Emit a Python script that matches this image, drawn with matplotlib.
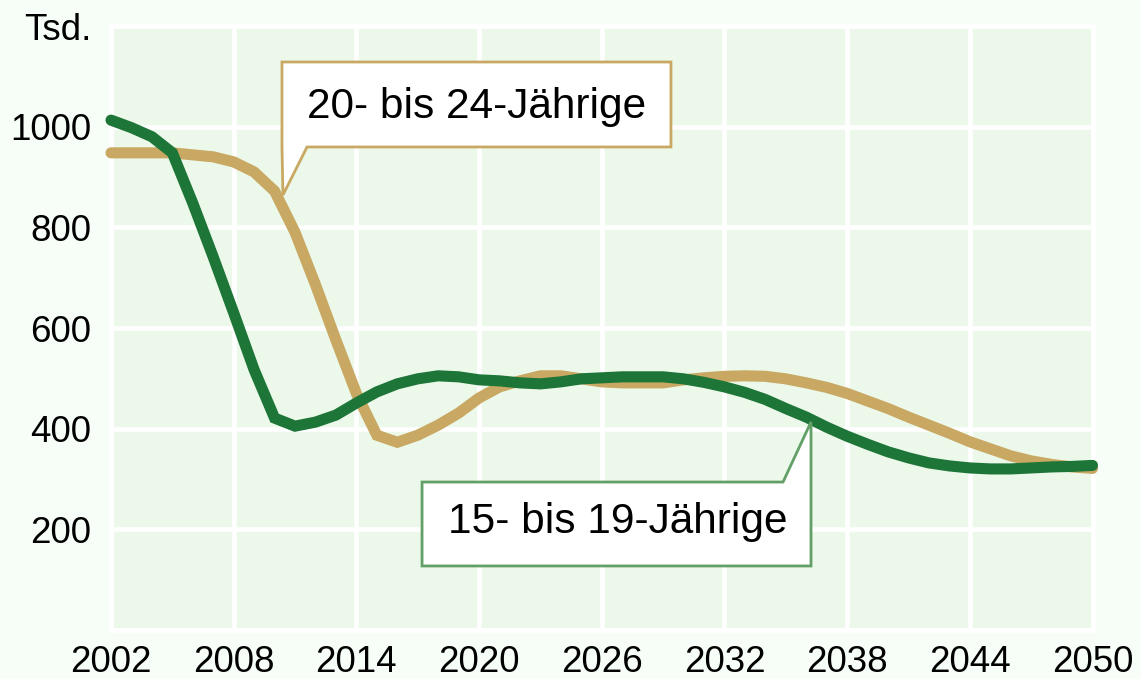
import matplotlib
matplotlib.use("Agg")
import matplotlib.pyplot as plt
from matplotlib.patches import Polygon

plt.rcParams['font.family'] = ['Liberation Sans', 'DejaVu Sans']

years = list(range(2002, 2051))
age_20_24 = [948, 948, 948, 948, 944, 940, 930, 910, 872, 790, 686, 576, 470, 387,
             373, 387, 407, 431, 461, 483, 495, 505, 505, 499, 493, 491, 491, 491,
             497, 501, 504, 505, 504, 499, 491, 482, 470, 455, 440, 423, 407, 391,
             374, 360, 346, 336, 329, 324, 321]
age_15_19 = [1013, 998, 980, 948, 848, 741, 630, 517, 421, 405, 413, 427, 451, 473,
             489, 499, 505, 503, 497, 495, 491, 489, 493, 499, 501, 503, 503, 503,
             499, 492, 483, 472, 458, 440, 423, 403, 385, 369, 354, 342, 332, 326,
             322, 320, 320, 322, 324, 325, 327]
xticks = [2002, 2008, 2014, 2020, 2026, 2032, 2038, 2044, 2050]
yticks = [200, 400, 600, 800, 1000, 1200]
ytick_labels = ['200', '400', '600', '800', '1000', 'Tsd.']
label_20_24 = '20- bis 24-Jährige'
label_15_19 = '15- bis 19-Jährige'

TAN = '#C8A862'
GREEN = '#1D7537'
GREEN_EDGE = '#62A067'

fig = plt.figure(figsize=(11.41, 6.79), dpi=100)
fig.patch.set_facecolor('#F7FEF8')
ax = fig.add_axes([111 / 1141, 49 / 679, 981.5 / 1141, 604 / 679])
ax.set_facecolor('#ECF9EA')

ax.plot(years, age_20_24, color=TAN, lw=8, solid_capstyle='round',
        solid_joinstyle='miter', clip_on=False, zorder=3)
ax.plot(years, age_15_19, color=GREEN, lw=8, solid_capstyle='round',
        solid_joinstyle='miter', clip_on=False, zorder=4)

ax.set_xlim(2002, 2050)
ax.set_ylim(0, 1200)
ax.set_xticks(xticks)
ax.set_xticklabels([str(x) for x in xticks])
ax.set_yticks(yticks)
ax.set_yticklabels(ytick_labels)
ax.tick_params(axis='both', length=0, labelsize=26.5, colors='black')
ax.tick_params(axis='y', pad=14)
ax.tick_params(axis='x', pad=11)
ax.grid(True, color='white', lw=3.3, zorder=1)
ax.set_axisbelow(True)
for s in ax.spines.values():
    s.set_color('white')
    s.set_linewidth(3.5)

# callouts (axes-fraction coordinates)
tan_poly = [(0.1742, 0.9404), (0.5705, 0.9404), (0.5705, 0.7997),
            (0.1997, 0.7997), (0.1752, 0.7202), (0.1742, 0.7997)]
ax.add_patch(Polygon(tan_poly, closed=True, transform=ax.transAxes,
                     facecolor='white', edgecolor=TAN, lw=2, zorder=6,
                     joinstyle='miter', clip_on=False))
ax.text(0.3729, 0.8477, label_20_24, transform=ax.transAxes, ha='center',
        va='baseline', fontsize=30.5, color='black', zorder=7)

green_poly = [(0.3169, 0.2450), (0.6847, 0.2450), (0.7132, 0.3444),
              (0.7132, 0.1060), (0.3169, 0.1060)]
ax.add_patch(Polygon(green_poly, closed=True, transform=ax.transAxes,
                     facecolor='white', edgecolor=GREEN_EDGE, lw=2, zorder=6,
                     joinstyle='miter', clip_on=False))
ax.text(0.5166, 0.1606, label_15_19, transform=ax.transAxes, ha='center',
        va='baseline', fontsize=30.5, color='black', zorder=7)

fig.savefig('out.png', dpi=100, facecolor=fig.get_facecolor())
